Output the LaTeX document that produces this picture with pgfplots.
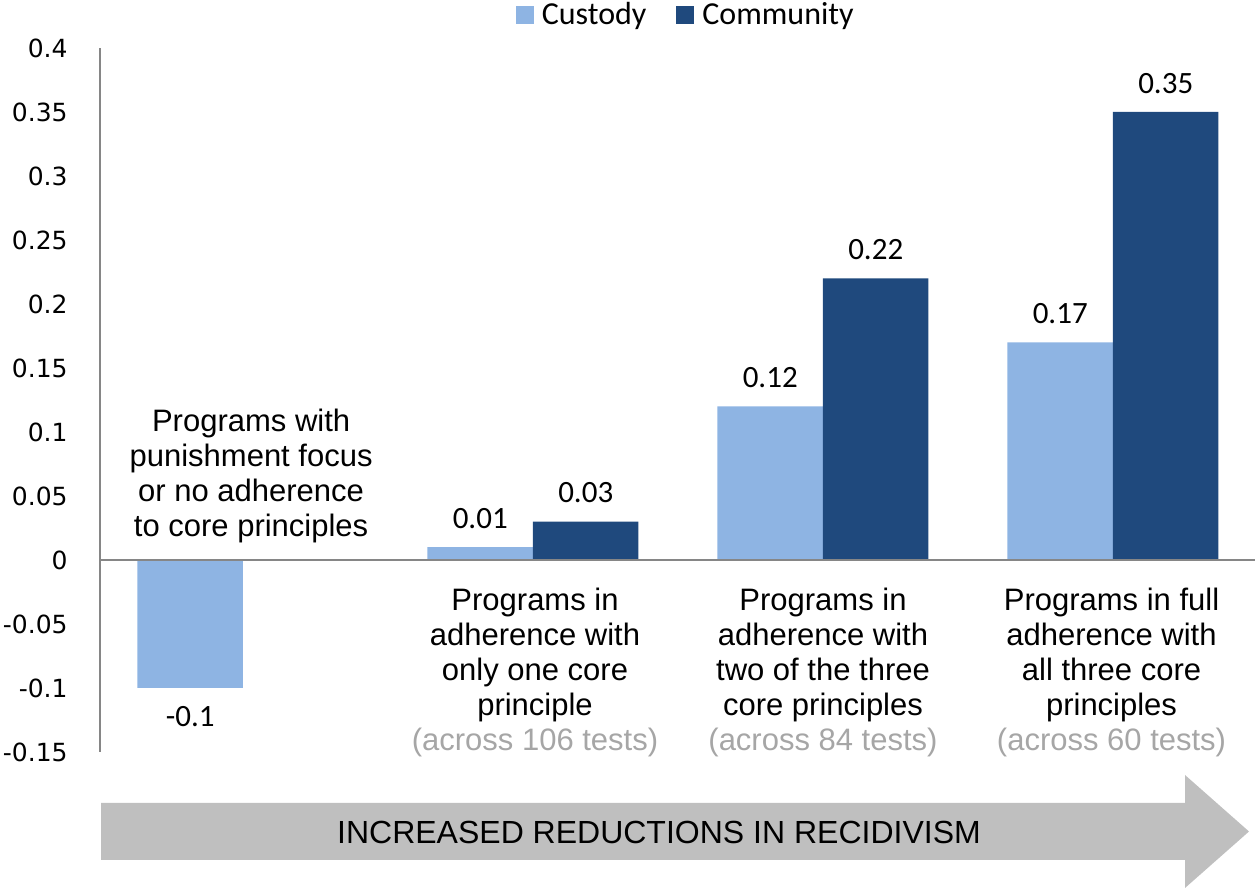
\documentclass[border=0pt]{standalone}
\usepackage{pgfplots}
\pgfplotsset{compat=1.18}
\usepackage{fontspec}
\setmainfont{Liberation Sans}
\newfontfamily\calibri{Carlito}
\newfontfamily\dejavu{DejaVu Sans}
\definecolor{cust}{HTML}{8EB4E3}
\definecolor{comm}{HTML}{1F497D}
\definecolor{axgray}{HTML}{868686}
\definecolor{txtgray}{HTML}{A6A6A6}
\definecolor{arrowgray}{HTML}{BFBFBF}
\begin{document}
\begin{tikzpicture}
\path[use as bounding box] (0,0) rectangle (627.5pt,444pt);
\begin{axis}[
  at={(50pt,68pt)}, anchor=south west,
  scale only axis, width=577.5pt, height=352pt,
  xmin=-0.4931, xmax=3.4897, ymin=-0.15, ymax=0.4,
  axis x line=none, axis y line=left,
  y axis line style={-, draw=axgray, line width=0.75pt},
  ytick={-0.15,-0.1,-0.05,0,0.05,0.1,0.15,0.2,0.25,0.3,0.35,0.4},
  yticklabels={-0.15,-0.1,-0.05,0,0.05,0.1,0.15,0.2,0.25,0.3,0.35,0.4},
  major tick length=0pt,
  yticklabel style={font=\dejavu\fontsize{12.5}{15}\selectfont, anchor=east, inner sep=0pt, xshift=-16pt},
  ybar=0pt, bar width=52.75pt,
  point meta=y,
  nodes near coords={\pgfmathprintnumber[assume math mode=true, fixed, precision=2]{\pgfplotspointmeta}},
  nodes near coords align={vertical},
  every node near coord/.append style={font=\calibri\fontsize{15.5}{18}\selectfont, inner ysep=9pt, text=black},
  legend style={at={(0.508,1.0469)}, anchor=center, draw=none, fill=none,
    font=\calibri\fontsize{16}{19}\selectfont,
    /tikz/every even column/.append style={column sep=13pt}},
  legend columns=2,
  legend image code/.code={\fill[#1] (0pt,-4.5pt) rectangle (9pt,4.5pt); \path (11pt,0pt);},
  clip=false,
]
\addplot[fill=cust, draw=none] coordinates {(0,-0.1) (1,0.01) (2,0.12) (3,0.17)};
\addplot[fill=comm, draw=none] coordinates {(1,0.03) (2,0.22) (3,0.35)};
\legend{Custody, Community}
\draw[axgray, line width=0.75pt] (axis cs:-0.4931,0) -- (axis cs:3.4897,0);
\node[anchor=north, align=center, inner sep=0pt, font=\fontsize{15.5}{17.5}\selectfont] at (axis cs:0.028,0.118) {Programs with\\punishment focus\\or no adherence\\to core principles};
\node[anchor=north, align=center, inner sep=0pt, font=\fontsize{15.5}{17.5}\selectfont] at (axis cs:1.007,-0.0219) {Programs in\\adherence with\\only one core\\principle\\\textcolor{txtgray}{(across 106 tests)}};
\node[anchor=north, align=center, inner sep=0pt, font=\fontsize{15.5}{17.5}\selectfont] at (axis cs:2,-0.0219) {Programs in\\adherence with\\two of the three\\core principles\\\textcolor{txtgray}{(across 84 tests)}};
\node[anchor=north, align=center, inner sep=0pt, font=\fontsize{15.5}{17.5}\selectfont] at (axis cs:2.995,-0.0219) {Programs in full\\adherence with\\all three core\\principles\\\textcolor{txtgray}{(across 60 tests)}};
\end{axis}
\begin{scope}[yshift=444pt, x=0.5pt, y=-0.5pt]
\fill[arrowgray] (101,803) -- (1185,803) -- (1185,775) -- (1249,831.5) -- (1185,888) -- (1185,860) -- (101,860) -- cycle;
\node[font=\fontsize{16}{19}\selectfont] at (659,832) {INCREASED REDUCTIONS IN RECIDIVISM};
\end{scope}
\end{tikzpicture}
\end{document}
